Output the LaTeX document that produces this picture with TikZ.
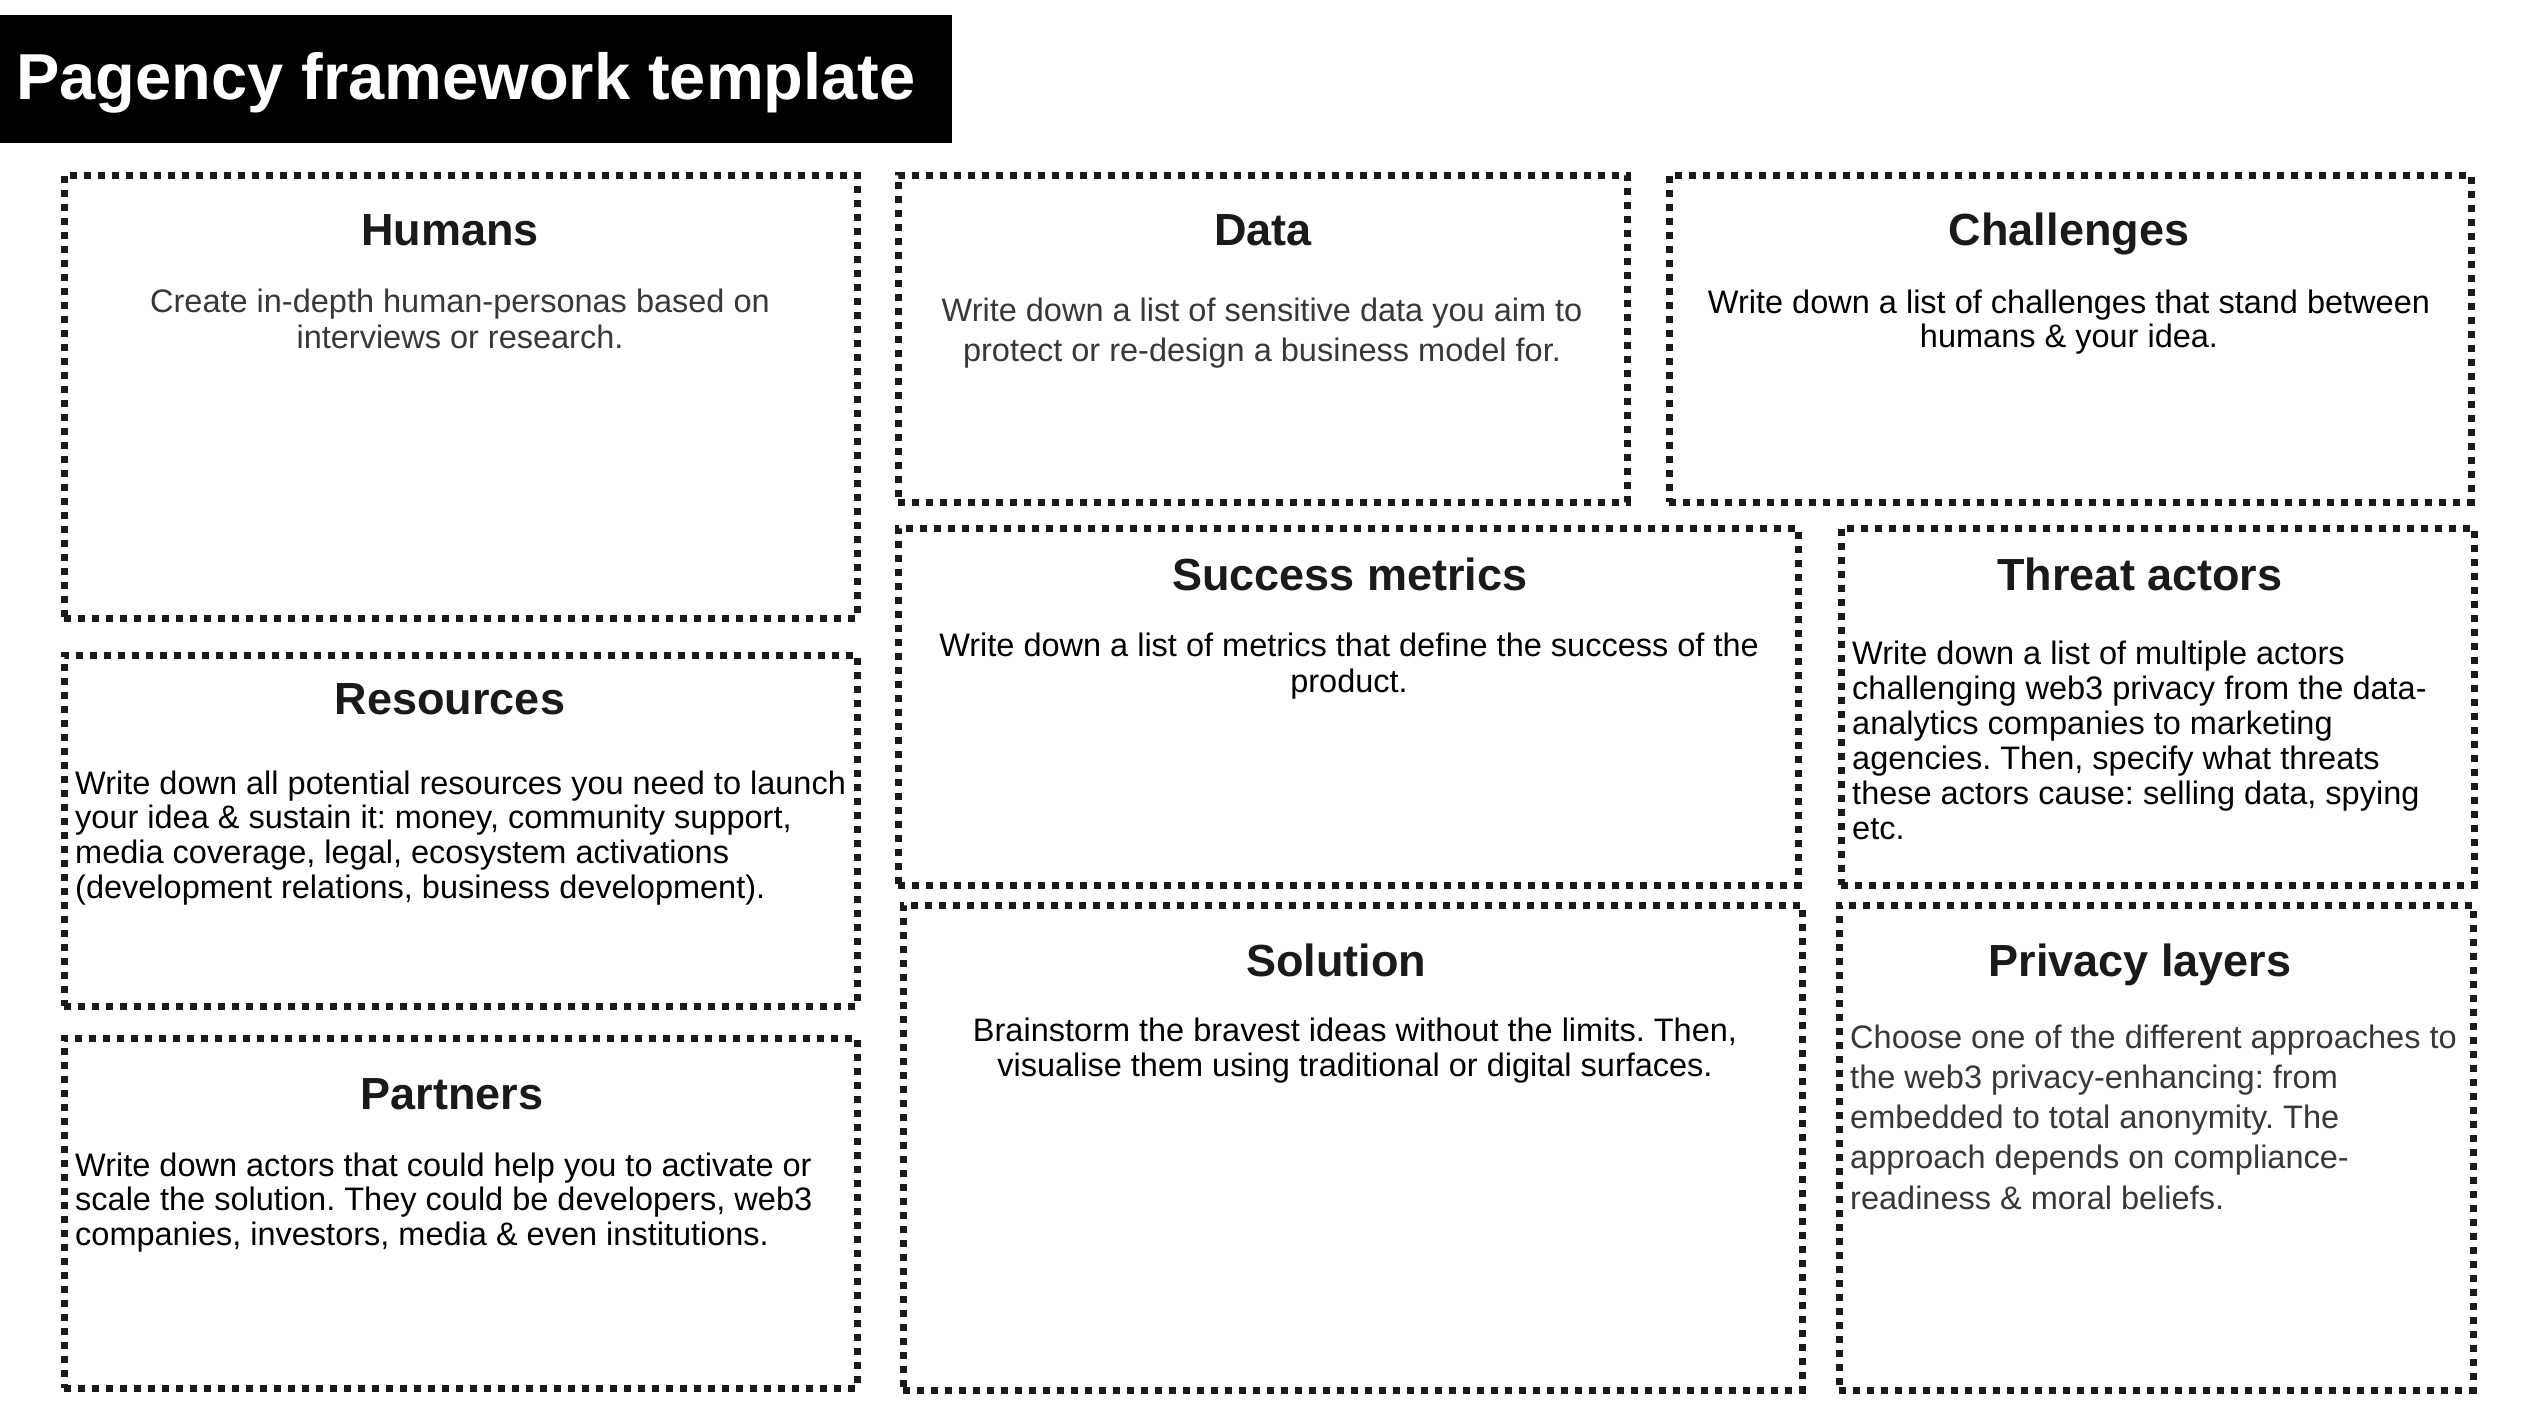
\documentclass[tikz,border=0pt]{standalone}
\usepackage{fontspec}
\setmainfont{Liberation Sans}
\definecolor{ink}{HTML}{1A1A1A}
\definecolor{soft}{HTML}{383838}
\newcommand\fst{\rule{0pt}{30pt}}
\begin{document}
\frenchspacing
\begin{tikzpicture}[x=1pt,y=-1pt,
  box/.style={draw=ink, line width=7pt, dash pattern=on 7pt off 7pt, outer sep=0pt, inner sep=0pt, anchor=north west},
  head/.style={font=\fontsize{45}{50}\selectfont\bfseries, text=ink, anchor=base, inner sep=0pt},
  bodyc/.style={align=center, anchor=north, inner sep=0pt},
  bodyl/.style={align=left, anchor=north west, inner sep=0pt},
  fnt/.style={font=\fontsize{32.5}{#1}\selectfont}
]
\fill[white] (0,0) rectangle (2524,1418);
\useasboundingbox (0,0) rectangle (2524,1418);

% title
\node[fill=black, minimum width=952, minimum height=128, anchor=north west, outer sep=0pt, inner sep=0pt] (titlebar) at (0,15) {};
\node[anchor=base west, text=white, font=\fontsize{65}{70}\selectfont\bfseries, inner sep=0pt] (title) at (16,100) {Pagency framework template};

% boxes
\node[box, minimum width=793, minimum height=443] (humans) at (64,175) {};
\node[box, minimum width=793, minimum height=351] (resources) at (64,655) {};
\node[box, minimum width=793, minimum height=350] (partners) at (64,1038) {};
\node[box, minimum width=729, minimum height=327] (data) at (898,175) {};
\node[box, minimum width=802, minimum height=327] (challenges) at (1669,175) {};
\node[box, minimum width=900, minimum height=357] (success) at (898,528) {};
\node[box, minimum width=633, minimum height=357] (threat) at (1841,528) {};
\node[box, minimum width=899, minimum height=485] (solution) at (903,905) {};
\node[box, minimum width=634, minimum height=485] (privacy) at (1839,905) {};

% headings
\node[head] (humansH) at (450,245) {Humans};
\node[head] (resourcesH) at (450,714) {Resources};
\node[head] (partnersH) at (452,1109) {Partners};
\node[head] (dataH) at (1263,245) {Data};
\node[head] (challengesH) at (2069,245) {Challenges};
\node[head] (successH) at (1350,590) {Success metrics};
\node[head] (threatH) at (2140,590) {Threat actors};
\node[head] (solutionH) at (1336,976) {Solution};
\node[head] (privacyH) at (2140,976) {Privacy layers};

% bodies
\node[bodyc, fnt=36, text=soft] (humansB) at (460,282) {\fst Create in-depth human-personas based on\\interviews or research.};
\node[bodyl, fnt=34.7, text=black] (resourcesB) at (75,764) {\fst Write down all potential resources you need to launch\\your idea \& sustain it: money, community support,\\media coverage, legal, ecosystem activations\\(development relations, business development).};
\node[bodyl, fnt=34.5, text=black] (partnersB) at (75,1146) {\fst Write down actors that could help you to activate or\\scale the solution. They could be developers, web3\\companies, investors, media \& even institutions.};
\node[bodyc, fnt=40, text=soft] (dataB) at (1262,291) {\fst Write down a list of sensitive data you aim to\\protect or re-design a business model for.};
\node[bodyc, fnt=34, text=black] (challengesB) at (2069,283) {\fst Write down a list of challenges that stand between\\humans \& your idea.};
\node[bodyc, fnt=36, text=black] (successB) at (1349,626) {\fst Write down a list of metrics that define the success of the\\product.};
\node[bodyl, fnt=35, text=black] (threatB) at (1852,634) {\fst Write down a list of multiple actors\\challenging web3 privacy from the data-\\analytics companies to marketing\\agencies. Then, specify what threats\\these actors cause: selling data, spying\\etc.};
\node[bodyc, fnt=35, text=black] (solutionB) at (1355,1011) {\fst Brainstorm the bravest ideas without the limits. Then,\\visualise them using traditional or digital surfaces.};
\node[bodyl, fnt=40.2, text=soft] (privacyB) at (1850,1018) {\fst Choose one of the different approaches to\\the web3 privacy-enhancing: from\\embedded to total anonymity. The\\approach depends on compliance-\\readiness \& moral beliefs.};
\end{tikzpicture}
\end{document}
